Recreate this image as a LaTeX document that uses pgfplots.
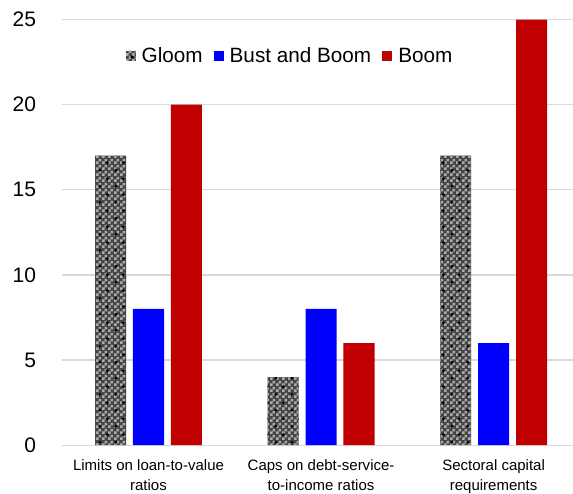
\documentclass[border=0pt]{standalone}
\usepackage{fontspec}
\setmainfont{Liberation Sans}
\usepackage{pgfplots}
\pgfplotsset{compat=1.18}
\usetikzlibrary{patterns}
\pgfdeclarepatternformonly{checker}{\pgfpointorigin}{\pgfpoint{6pt}{6pt}}{\pgfpoint{6pt}{6pt}}{%
 \pgfpathrectangle{\pgfpointorigin}{\pgfpoint{3pt}{3pt}}%
 \pgfpathrectangle{\pgfpoint{3pt}{3pt}}{\pgfpoint{3pt}{3pt}}%
 \pgfusepath{fill}}
\pgfdeclarepatternformonly{bigdots}{\pgfpointorigin}{\pgfpoint{16pt}{16pt}}{\pgfpoint{16pt}{16pt}}{%
 \pgfpathcircle{\pgfpoint{4pt}{4pt}}{1.8pt}%
 \pgfpathcircle{\pgfpoint{12pt}{12pt}}{1.8pt}%
 \pgfusepath{fill}}
\definecolor{bbblue}{HTML}{0000FF}
\definecolor{boomred}{HTML}{C00000}
\definecolor{gridgray}{HTML}{D9D9D9}
\definecolor{lightchk}{HTML}{ACACAC}
\definecolor{darkchk}{HTML}{454545}
\begin{document}
\begin{tikzpicture}
\begin{axis}[name=ax, scale only axis, width=510.6pt, height=425.5pt,
  xmin=-0.5, xmax=2.46, ymin=0, ymax=25,
  axis x line*=bottom, axis y line*=left,
  axis line style={-},
  x axis line style={draw=gridgray, line width=1.3pt},
  y axis line style={draw=none},
  major tick length=0pt,
  ytick={0,5,...,25},
  ymajorgrids, grid style={gridgray, line width=1.3pt},
  xtick={0,1,2},
  xticklabels={{Limits on loan-to-value\\ratios},{Caps on debt-service-\\to-income ratios},{Sectoral capital\\requirements}},
  xticklabel style={align=center, font=\fontsize{15}{20}\selectfont, yshift=-11pt},
  yticklabel style={font=\fontsize{21}{25}\selectfont, inner sep=0pt, xshift=-26pt},
  /pgf/number format/assume math mode=true,
  legend style={at={(0.446,0.915)}, anchor=center, draw=none, fill=none,
    font=\fontsize{20.7}{24}\selectfont,
    /tikz/every even column/.append style={column sep=9pt}},
  legend columns=3,
  legend image code/.code={\path[#1] (0pt,-5pt) rectangle (10pt,5pt); \path (14pt,0pt);},
]
\addplot[ybar, bar width=0.18, bar shift=-0.22, draw=none, fill=darkchk,
  postaction={pattern=checker, pattern color=lightchk},
  postaction={pattern=bigdots, pattern color=black}]
  coordinates {(0,17) (1,4) (2,17)};
\addlegendentry{Gloom}
\addplot[ybar, bar width=0.18, bar shift=0, draw=none, fill=bbblue]
  coordinates {(0,8) (1,8) (2,6)};
\addlegendentry{Bust and Boom}
\addplot[ybar, bar width=0.18, bar shift=0.22, draw=none, fill=boomred]
  coordinates {(0,20) (1,6) (2,25)};
\addlegendentry{Boom}
\end{axis}
\pgfresetboundingbox
\path[use as bounding box] ([xshift=-62.2pt, yshift=-48pt]ax.south west) rectangle ([yshift=19.5pt]ax.north east);
\end{tikzpicture}
\end{document}
